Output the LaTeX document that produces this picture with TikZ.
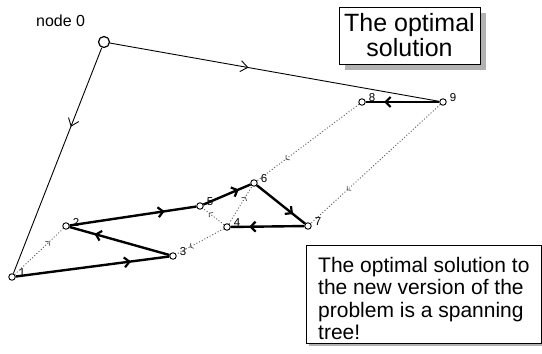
\documentclass[tikz,border=0pt]{standalone}
\usepackage{fontspec}
\setmainfont{Liberation Sans}
\usetikzlibrary{arrows.meta,decorations.markings,shadows}
\begin{document}
\begin{tikzpicture}[x=1pt,y=-1pt,
  vtx/.style={circle,draw,fill=white,inner sep=0pt,minimum size=6.5pt,line width=0.9pt},
  lbl/.style={font=\fontsize{11.5}{13}\selectfont,inner sep=0pt,yshift=4pt},
  thinedge/.style={line width=0.9pt,postaction={decorate},
    decoration={markings,mark=at position #1 with {\arrow{Straight Barb[length=7pt,width=11pt,line width=0.9pt]}}}},
  thinedge/.default=0.5,
  treeedge/.style={line width=2.4pt,postaction={decorate},
    decoration={markings,mark=at position 0.75 with {\arrow{Straight Barb[length=5pt,width=10pt,line width=2.2pt]}}}},
  dualedge/.style={black!65,line width=0.9pt,dash pattern=on 1pt off 2pt,postaction={decorate},
    decoration={markings,mark=at position 0.72 with {\arrow[black!65]{Straight Barb[length=2.5pt,width=6pt,line width=0.8pt]}}}},
  textbox/.style={draw,fill=white,line width=0.9pt,inner sep=0pt}
]
\useasboundingbox (0,0) rectangle (542,354);

% vertices
\node[vtx,minimum size=11pt,line width=1.2pt] (n0) at (104,42) {};
\node[vtx,label={[lbl,label distance=3pt]east:1}] (n1) at (12,277) {};
\node[vtx,label={[lbl,label distance=3pt]east:2}] (n2) at (66,226) {};
\node[vtx,label={[lbl,label distance=3pt]east:3}] (n3) at (173,256) {};
\node[vtx,label={[lbl,label distance=3pt]east:4}] (n4) at (227,227) {};
\node[vtx,label={[lbl,label distance=3pt]east:5}] (n5) at (200,206) {};
\node[vtx,label={[lbl,label distance=3pt]east:6}] (n6) at (254,183) {};
\node[vtx,label={[lbl,label distance=3pt]east:7}] (n7) at (308,226) {};
\node[vtx,label={[lbl,label distance=3pt]east:8}] (n8) at (362,102) {};
\node[vtx,label={[lbl,label distance=3pt]east:9}] (n9) at (443,102) {};

\node[anchor=base west,inner sep=0pt,font=\fontsize{16}{18}\selectfont] (lab0) at (36,26) {node 0};

% dotted (non-tree) edges
\draw[dualedge] (n1) -- (n2);
\draw[dualedge] (n4) -- (n3);
\draw[dualedge] (n4) -- (n5);
\draw[dualedge] (n4) -- (n6);
\draw[dualedge] (n8) -- (n6);
\draw[dualedge] (n9) -- (n7);

% thin edges from node 0
\draw[thinedge=0.42] (n0) -- (n9);
\draw[thinedge=0.35] (n0) -- (n1);

% thick tree edges
\draw[treeedge] (n1) -- (n3);
\draw[treeedge] (n3) -- (n2);
\draw[treeedge] (n2) -- (n5);
\draw[treeedge] (n5) -- (n6);
\draw[treeedge] (n6) -- (n7);
\draw[treeedge] (n7) -- (n4);
\draw[treeedge] (n9) -- (n8);

% text boxes
\node[textbox,general shadow={fill=gray!60,shadow xshift=6pt,shadow yshift=-6pt},
  minimum width=141pt,minimum height=57pt,align=center,
  font=\fontsize{25}{25}\selectfont] (box1) at (409.5,35.5) {The optimal\\solution};

\node[textbox,general shadow={fill=gray!60,shadow xshift=3pt,shadow yshift=-3pt},
  anchor=north west,minimum width=235pt,minimum height=98pt] (box2) at (306,245) {};
\node[anchor=north west,inner sep=0pt,align=left,font=\fontsize{21}{22.5}\selectfont] (txt2) at (318,256.7)
  {The optimal solution to\\the new version of the\\problem is a spanning\\tree!};
\end{tikzpicture}
\end{document}
